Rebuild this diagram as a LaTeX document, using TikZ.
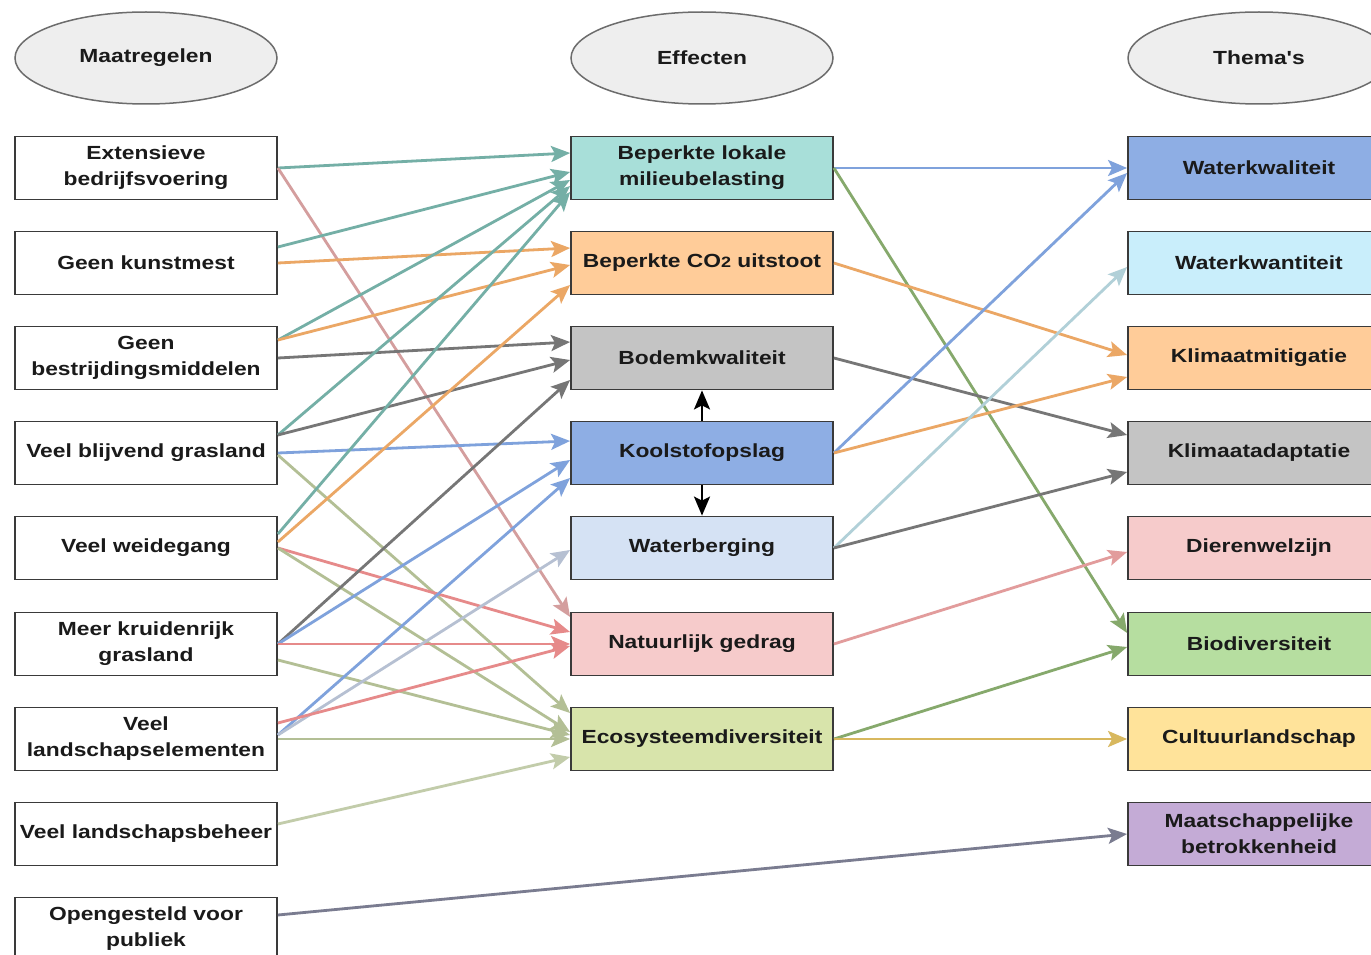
\documentclass[tikz,border=0pt]{standalone}
\usepackage{fontspec}
\setmainfont{Liberation Sans}[FakeStretch=1.2, Ligatures=TeXOff]
\usetikzlibrary{arrows.meta,shapes.geometric}
\tikzset{>={Stealth[length=19pt,width=16pt,inset=4pt]}}

\definecolor{boxline}{HTML}{3A3A3A}
\definecolor{textcol}{HTML}{1A1A1A}
\definecolor{headfill}{HTML}{EEEEEE}
% vullingen
\definecolor{milieu}{HTML}{A8DFD9}
\definecolor{co2}{HTML}{FFCC99}
\definecolor{bodem}{HTML}{C4C4C4}
\definecolor{kool}{HTML}{8EAEE4}
\definecolor{berging}{HTML}{D5E2F4}
\definecolor{gedrag}{HTML}{F6CBCB}
\definecolor{eco}{HTML}{D8E4AB}
\definecolor{kwantiteit}{HTML}{C9EEFB}
\definecolor{bio}{HTML}{B6DEA0}
\definecolor{cultuur}{HTML}{FFE39A}
\definecolor{maatsch}{HTML}{C4ABD6}
% lijnen
\definecolor{tealline}{HTML}{74AFA6}
\definecolor{orangeline}{HTML}{EBA765}
\definecolor{grayline}{HTML}{767676}
\definecolor{blueline}{HTML}{7FA2DC}
\definecolor{slateline}{HTML}{B6C0D2}
\definecolor{redline}{HTML}{E68A8A}
\definecolor{mauveline}{HTML}{D49E9E}
\definecolor{oliveline}{HTML}{B3BF95}
\definecolor{greenline}{HTML}{86A96C}
\definecolor{aqualine}{HTML}{B1D0D8}
\definecolor{yellowline}{HTML}{D8B85E}
\definecolor{pinkline}{HTML}{E29C9C}
\definecolor{purpleline}{HTML}{7A7C90}

\begin{document}
\begin{tikzpicture}[x=1pt,y=-1pt,
    box/.style={draw=boxline, line width=1.8pt, minimum width=262pt, minimum height=63pt,
        align=center, inner sep=2pt, text=textcol, font=\bfseries\fontsize{19}{26}\selectfont},
    head/.style={ellipse, draw=gray!85!black, line width=1.5pt, fill=headfill,
        minimum width=262pt, minimum height=92pt, text=textcol, font=\bfseries\fontsize{19}{26}\selectfont},
    link/.style={->, line width=2.8pt}]
    \useasboundingbox (0,0) rectangle (1371,955);
    \clip (0,0) rectangle (1371,955);
    \fill[white] (0,0) rectangle (1371,955);

    % kopjes
    \node[head] (h1) at (146,58) {Maatregelen};
    \node[head] (h2) at (702,58) {Effecten};
    \node[head] (h3) at (1259,58) {Thema's};

    % maatregelen
    \node[box] (m1) at (146,168) {Extensieve\\bedrijfsvoering};
    \node[box] (m2) at (146,263) {Geen kunstmest};
    \node[box] (m3) at (146,358) {Geen\\bestrijdingsmiddelen};
    \node[box] (m4) at (146,453) {Veel blijvend grasland};
    \node[box] (m5) at (146,548) {Veel weidegang};
    \node[box] (m6) at (146,644) {Meer kruidenrijk\\grasland};
    \node[box] (m7) at (146,739) {Veel\\landschapselementen};
    \node[box] (m8) at (146,834) {Veel landschapsbeheer};
    \node[box] (m9) at (146,929) {Opengesteld voor\\publiek};

    % effecten
    \node[box, fill=milieu] (e1) at (702,168) {Beperkte lokale\\milieubelasting};
    \node[box, fill=co2] (e2) at (702,263) {Beperkte CO{\fontsize{15}{15}\selectfont 2} uitstoot};
    \node[box, fill=bodem] (e3) at (702,358) {Bodemkwaliteit};
    \node[box, fill=kool] (e4) at (702,453) {Koolstofopslag};
    \node[box, fill=berging] (e5) at (702,548) {Waterberging};
    \node[box, fill=gedrag] (e6) at (702,644) {Natuurlijk gedrag};
    \node[box, fill=eco] (e7) at (702,739) {Ecosysteemdiversiteit};

    % thema's
    \node[box, fill=kool] (t1) at (1259,168) {Waterkwaliteit};
    \node[box, fill=kwantiteit] (t2) at (1259,263) {Waterkwantiteit};
    \node[box, fill=co2] (t3) at (1259,358) {Klimaatmitigatie};
    \node[box, fill=bodem] (t4) at (1259,453) {Klimaatadaptatie};
    \node[box, fill=gedrag] (t5) at (1259,548) {Dierenwelzijn};
    \node[box, fill=bio] (t6) at (1259,644) {Biodiversiteit};
    \node[box, fill=cultuur] (t7) at (1259,739) {Cultuurlandschap};
    \node[box, fill=maatsch] (t8) at (1259,834) {Maatschappelijke\\betrokkenheid};

    % maatregelen -> effecten
    \draw[link, tealline] (m1.east) -- ([yshift=15pt]e1.west);
    \draw[link, mauveline] (m1.east) -- ([yshift=27pt]e6.west);
    \draw[link, tealline] ([yshift=16pt]m2.east) -- ([yshift=-4pt]e1.west);
    \draw[link, orangeline] (m2.east) -- ([yshift=15pt]e2.west);
    \draw[link, tealline] ([yshift=18pt]m3.east) -- ([yshift=-12pt]e1.west);
    \draw[link, orangeline] ([yshift=18pt]m3.east) -- ([yshift=-2pt]e2.west);
    \draw[link, grayline] (m3.east) -- ([yshift=16pt]e3.west);
    \draw[link, tealline] ([yshift=18pt]m4.east) -- ([yshift=-18pt]e1.west);
    \draw[link, grayline] ([yshift=18pt]m4.east) -- ([yshift=-2pt]e3.west);
    \draw[link, blueline] (m4.east) -- ([yshift=12pt]e4.west);
    \draw[link, oliveline] ([yshift=-2pt]m4.east) -- ([yshift=26pt]e7.west);
    \draw[link, tealline] ([yshift=14pt]m5.east) -- ([yshift=-24pt]e1.west);
    \draw[link, orangeline] ([yshift=6pt]m5.east) -- ([yshift=-22pt]e2.west);
    \draw[link, redline] (m5.east) -- ([yshift=12pt]e6.west);
    \draw[link, oliveline] (m5.east) -- ([yshift=7pt]e7.west);
    \draw[link, grayline] (m6.east) -- ([yshift=-22pt]e3.west);
    \draw[link, blueline] (m6.east) -- ([yshift=-7pt]e4.west);
    \draw[link, redline] (m6.east) -- (e6.west);
    \draw[link, oliveline] ([yshift=-16pt]m6.east) -- ([yshift=4pt]e7.west);
    \draw[link, blueline] ([yshift=4pt]m7.east) -- ([yshift=-25pt]e4.west);
    \draw[link, slateline] ([yshift=4pt]m7.east) -- ([yshift=-2pt]e5.west);
    \draw[link, redline] ([yshift=16pt]m7.east) -- ([yshift=-2pt]e6.west);
    \draw[link, oliveline] (m7.east) -- (e7.west);
    \draw[link, oliveline!80] ([yshift=10pt]m8.east) -- ([yshift=-18pt]e7.west);
    \draw[link, purpleline] ([yshift=14pt]m9.east) -- (t8.west);

    % effecten onderling
    \draw[->, line width=2.4pt, black] (e4.north) -- (e3.south);
    \draw[->, line width=2.4pt, black] (e4.south) -- (e5.north);

    % effecten -> thema's
    \draw[link, blueline] (e1.east) -- (t1.west);
    \draw[link, greenline] (e1.east) -- ([yshift=11pt]t6.west);
    \draw[link, orangeline] (e2.east) -- ([yshift=3pt]t3.west);
    \draw[link, grayline] (e3.east) -- ([yshift=18pt]t4.west);
    \draw[link, blueline] (e4.east) -- ([yshift=-5pt]t1.west);
    \draw[link, orangeline] (e4.east) -- ([yshift=-19pt]t3.west);
    \draw[link, aqualine] (e5.east) -- ([yshift=-4pt]t2.west);
    \draw[link, grayline] (e5.east) -- ([yshift=-19pt]t4.west);
    \draw[link, pinkline] (e6.east) -- ([yshift=-4pt]t5.west);
    \draw[link, greenline] (e7.east) -- ([yshift=-3pt]t6.west);
    \draw[link, yellowline] (e7.east) -- (t7.west);
\end{tikzpicture}
\end{document}
